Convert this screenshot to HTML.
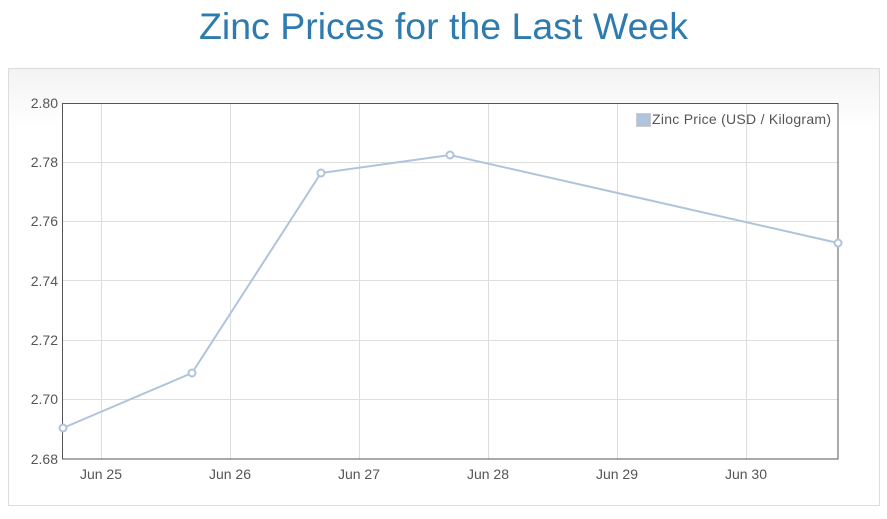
<!DOCTYPE html>
<html><head><style>
body{margin:0;width:887px;height:519px;background:#fff;overflow:hidden;font-family:"Liberation Sans",sans-serif;}
h1{position:absolute;left:0;top:0;width:887px;margin:0;text-align:center;font-weight:normal;font-size:37.5px;color:#2e7bb0;line-height:52px;}
.panel{position:absolute;left:8px;top:68px;width:870px;height:436px;border:1px solid #ddd;background:linear-gradient(#f3f3f3,#fff 60px);}
svg{position:absolute;left:0;top:0;}
</style></head><body>
<h1>Zinc Prices for the Last Week</h1>
<div class="panel"></div>
<svg width="887" height="519" font-family="Liberation Sans, sans-serif" font-size="13" fill="#555">
<rect x="62.5" y="103.5" width="775.5" height="355.5" fill="#fff"/>
<g stroke="#ddd" stroke-width="1">
<line x1="63" y1="162.5" x2="838" y2="162.5"/>
<line x1="63" y1="221.5" x2="838" y2="221.5"/>
<line x1="63" y1="280.5" x2="838" y2="280.5"/>
<line x1="63" y1="340.5" x2="838" y2="340.5"/>
<line x1="63" y1="399.5" x2="838" y2="399.5"/>
<line x1="101.5" y1="103" x2="101.5" y2="459"/>
<line x1="230.5" y1="103" x2="230.5" y2="459"/>
<line x1="359.5" y1="103" x2="359.5" y2="459"/>
<line x1="488.5" y1="103" x2="488.5" y2="459"/>
<line x1="617.5" y1="103" x2="617.5" y2="459"/>
<line x1="746.5" y1="103" x2="746.5" y2="459"/>
</g>
<rect x="62.5" y="103.5" width="775.5" height="355.5" fill="none" stroke="#555" stroke-width="1"/>
<g text-anchor="end" font-size="14">
<text x="58" y="108">2.80</text><text x="58" y="167">2.78</text><text x="58" y="226">2.76</text>
<text x="58" y="286">2.74</text><text x="58" y="345">2.72</text><text x="58" y="404">2.70</text><text x="58" y="464">2.68</text>
</g>
<g text-anchor="middle" font-size="14">
<text x="101" y="479">Jun 25</text><text x="230" y="479">Jun 26</text><text x="359" y="479">Jun 27</text>
<text x="488" y="479">Jun 28</text><text x="617" y="479">Jun 29</text><text x="746" y="479">Jun 30</text>
</g>
<polyline points="63,428 192,373 321,173 450,155 838,243" fill="none" stroke="#afc4dc" stroke-width="2"/>
<g fill="#fff" stroke="#afc4dc" stroke-width="2">
<circle cx="63" cy="428" r="3.5"/><circle cx="192" cy="373" r="3.5"/><circle cx="321" cy="173" r="3.5"/>
<circle cx="450" cy="155" r="3.5"/><circle cx="838" cy="243" r="3.5"/>
</g>
<rect x="636.5" y="113.5" width="14" height="13" fill="#afc4dc" stroke="#ccc"/>
<text x="652" y="124" font-size="14" textLength="179">Zinc Price (USD / Kilogram)</text>
</svg>
</body></html>
